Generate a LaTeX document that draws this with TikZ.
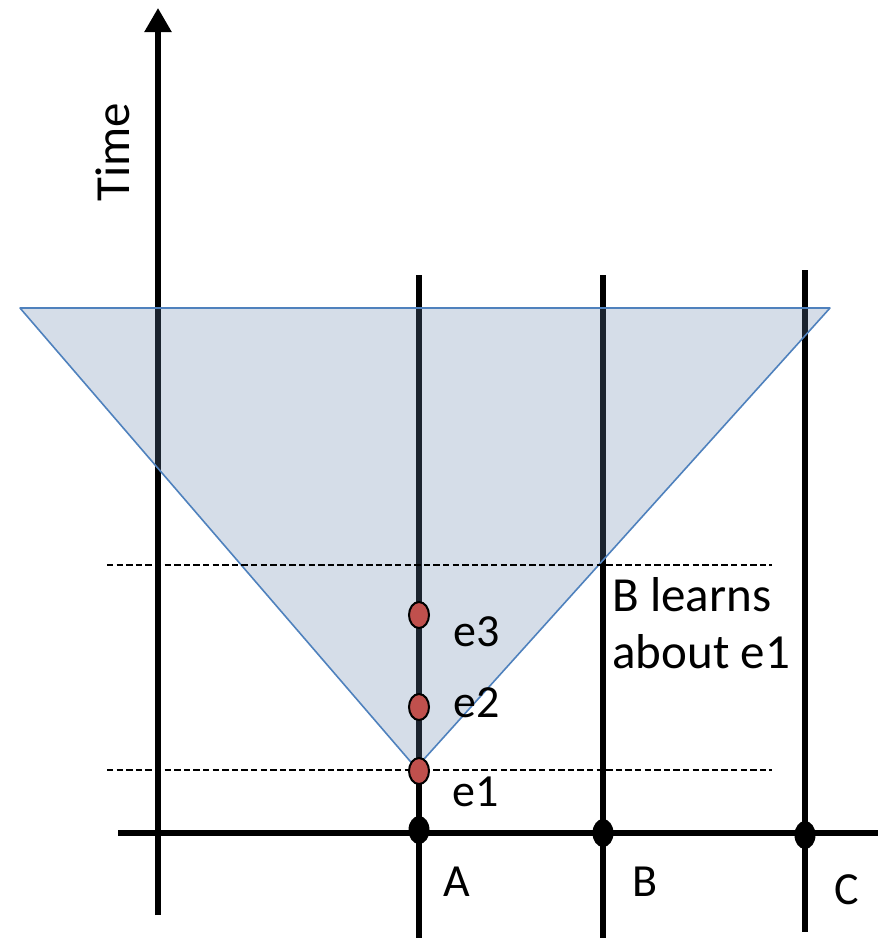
\documentclass[tikz,border=0pt]{standalone}
\usepackage{fontspec}
\setmainfont{Carlito}
\usetikzlibrary{arrows.meta,shapes.geometric}
\definecolor{evred}{RGB}{192,80,77}
\definecolor{conefill}{RGB}{100,130,170}
\definecolor{coneedge}{RGB}{79,129,189}
\begin{document}
\begin{tikzpicture}[x=0.5pt,y=-0.5pt,
  axis/.style={line width=2.7pt},
  dashline/.style={line width=0.75pt, dash pattern=on 3.2pt off 1.6pt},
  event/.style={ellipse, draw, line width=1pt, fill=evred, minimum width=10pt, minimum height=13pt, inner sep=0pt},
  tickdot/.style={ellipse, fill=black, minimum width=10.5pt, minimum height=14pt, inner sep=0pt},
  lbl/.style={font=\fontsize{23}{28.5}\selectfont, inner sep=0pt},
  note/.style={font=\fontsize{24.5}{28.5}\selectfont, inner sep=0pt}]
\useasboundingbox (0,0) rectangle (881,938);
% coordinates
\coordinate (tbot) at (158,915);
\coordinate (ttop) at (158,8);
\coordinate (xl) at (118,833);
\coordinate (xr) at (878,833);
\coordinate (atop) at (419,275);
\coordinate (abot) at (419,938);
\coordinate (btop) at (603,275);
\coordinate (bbot) at (603,938);
\coordinate (ctop) at (805,270);
\coordinate (cbot) at (805,932);
\coordinate (tl) at (20,308);
\coordinate (tr) at (830,308);
\coordinate (apex) at (416,768);
\coordinate (d1l) at (107,565);
\coordinate (d1r) at (772,565);
\coordinate (d2l) at (107,770);
\coordinate (d2r) at (772,770);
% axes and process lines
\draw[axis,-{Triangle[length=12pt,width=13pt]}] (tbot) -- (ttop);
\draw[axis] (xl) -- (xr);
\draw[axis] (atop) -- (abot);
\draw[axis] (btop) -- (bbot);
\draw[axis] (ctop) -- (cbot);
% light cone
\fill[conefill, fill opacity=0.27] (tl) -- (tr) -- (apex) -- cycle;
\draw[coneedge, line width=0.8pt, line join=round] (tl) -- (tr) -- (apex) -- cycle;
% dashed lines
\draw[dashline] (d1l) -- (d1r);
\draw[dashline] (d2l) -- (d2r);
% dots
\node[tickdot] (da) at (419,830) {};
\node[tickdot] (db) at (603,833) {};
\node[tickdot] (dc) at (805,835) {};
\node[event] (e1) at (419,771) {};
\node[event] (e2) at (419,707) {};
\node[event] (e3) at (419,615) {};
% labels
\node[lbl] (le3) at (477,632) {e3};
\node[lbl] (le2) at (477,703) {e2};
\node[lbl] (le1) at (476,792) {e1};
\node[lbl] (la) at (457,882) {A};
\node[lbl] (lb) at (645,882) {B};
\node[lbl] (lc) at (847,890) {C};
\node[note, align=left, anchor=north west] (learn) at (612,577) {B learns\\about e1};
\node[note, rotate=90] (time) at (113,152) {Time};
\end{tikzpicture}
\end{document}
